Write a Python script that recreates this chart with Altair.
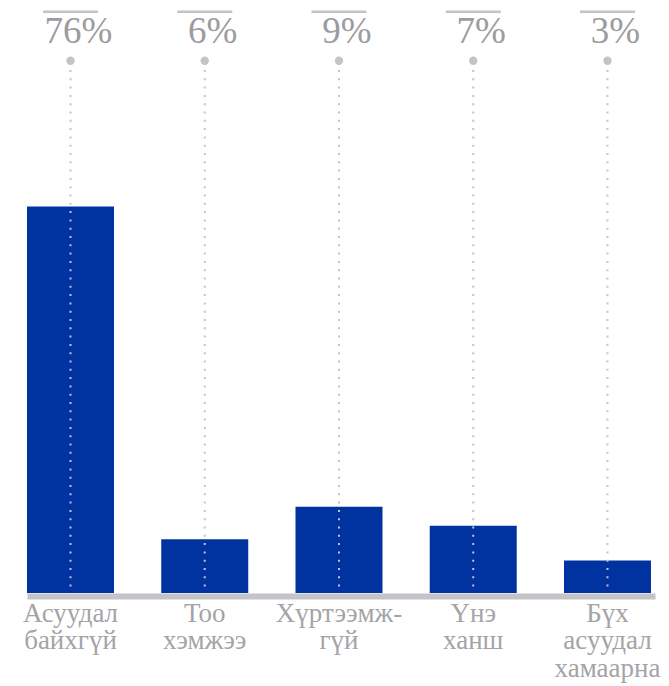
import altair as alt
import pandas as pd

categories = ["Асуудал\nбайхгүй", "Тоо\nхэмжээ", "Хүртээмж-\nгүй", "Үнэ\nханш", "Бүх\nасуудал\nхамаарна"]
pct_labels = ["76%", "6%", "9%", "7%", "3%"]
bar_values = [40.3, 5.6, 9.0, 7.0, 3.4]

df = pd.DataFrame({"cat": categories, "value": bar_values, "label": pct_labels})

W = 628
H = 585
GRAY = "#c4c4c8"
TEXT = "#9c9ca0"
SERIF = "Liberation Serif"

x = alt.X(
    "cat:N",
    sort=categories,
    scale=alt.Scale(paddingInner=0.352, paddingOuter=0.015, align=0),
    axis=alt.Axis(
        title=None,
        labelAngle=0,
        ticks=False,
        domainColor=GRAY,
        domainWidth=6,
        offset=3,
        labelExpr="split(datum.label, '\\n')",
        labelFont=SERIF,
        labelFontSize=27,
        labelColor="#a4a4a7",
        labelPadding=4,
        labelLineHeight=27.5,
        labelBaseline="top",
        labelOverlap=False,
        labelBound=False,
        labelLimit=300,
    ),
)

base = alt.Chart(df).encode(x=x)

bars = base.mark_bar(color="#0033A0", size=87).encode(
    y=alt.Y("value:Q", scale=alt.Scale(domain=[0, 61], nice=False), axis=None)
)

rules = base.mark_rule(color=GRAY, strokeWidth=2, strokeDash=[2, 6.3]).encode(
    y=alt.value(62), y2=alt.value(H)
)

dots = base.mark_circle(color=GRAY, size=70, opacity=1).encode(y=alt.value(52.7))

overlines = base.mark_bar(color=GRAY, size=55).encode(
    y=alt.value(2.5), y2=alt.value(5)
)

labels = base.mark_text(
    font=SERIF, fontSize=37, color=TEXT, baseline="alphabetic", dx=8
).encode(y=alt.value(35), text="label:N")

chart = (
    alt.layer(bars, rules, dots, overlines, labels)
    .properties(
        width=W,
        height=H,
        autosize=alt.AutoSizeParams(type="none"),
        padding={"left": 19, "top": 0, "right": 6, "bottom": 100},
    )
    .configure_view(stroke=None)
)

chart.save("out.html", embed_options={"renderer": "svg", "actions": False})
